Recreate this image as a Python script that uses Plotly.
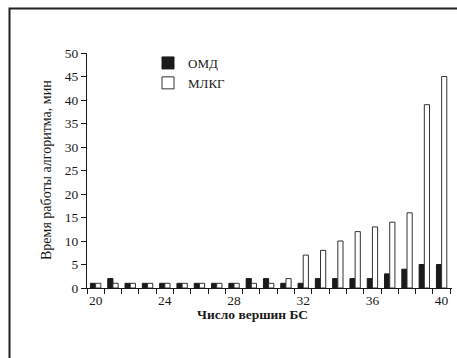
import plotly.graph_objects as go

vertices = list(range(20, 41))
omd = [1, 2, 1, 1, 1, 1, 1, 1, 1, 2, 2, 1, 1, 2, 2, 2, 2, 3, 4, 5, 5]
mlkg = [1, 1, 1, 1, 1, 1, 1, 1, 1, 1, 1, 2, 7, 8, 10, 12, 13, 14, 16, 39, 45]
x_ticks = [20, 24, 28, 32, 36, 40]
y_ticks = list(range(0, 55, 5))

FONT = "Liberation Serif"
INK = "#1a1a1a"

W, H = 457, 358
L, R, T, B = 87, 452, 53, 288
pw, ph = R - L, B - T

def px(x):
    return (x - L) / pw

def py(y):
    return (B - y) / ph

fig = go.Figure()
fig.add_trace(go.Bar(x=vertices, y=omd, name="ОМД", legendgroup="a",
                     marker=dict(color=INK, line=dict(color=INK, width=1))))
fig.add_trace(go.Bar(x=vertices, y=mlkg, name="МЛКГ", legendgroup="b",
                     marker=dict(color="white", line=dict(color="#333", width=1))))

fig.update_layout(
    width=W, height=H,
    margin=dict(l=L, r=W - R, t=T, b=H - B),
    paper_bgcolor="white", plot_bgcolor="white",
    barmode="group", bargap=0.4, bargroupgap=0,
    font=dict(family=FONT, size=13, color=INK),
    showlegend=True,
    legend=dict(x=px(148), y=py(48), xanchor="left", yanchor="top",
                font=dict(family=FONT, size=13, color=INK),
                bgcolor="rgba(0,0,0,0)", tracegroupgap=0,
                traceorder="grouped", itemwidth=30),
    xaxis=dict(range=[19.5, 40.6], tickmode="array", tickvals=x_ticks,
               ticks="outside", ticklen=0, tickcolor=INK,
               showline=True, linecolor=INK, linewidth=1,
               showgrid=False, zeroline=False,
               tickfont=dict(family=FONT, size=13.5, color=INK),
               minor=dict(tickmode="linear", tick0=19.5, dtick=1, ticks="outside",
                          ticklen=5, tickcolor=INK, tickwidth=1, showgrid=False)),
    yaxis=dict(range=[0, 50], tickmode="array", tickvals=y_ticks,
               ticks="outside", ticklen=5, tickcolor=INK, tickwidth=1,
               showline=True, linecolor=INK, linewidth=1,
               showgrid=False, zeroline=False,
               tickfont=dict(family=FONT, size=13.5, color=INK)),
    annotations=[
        dict(text="<b>Число вершин БС</b>", xref="paper", yref="paper",
             x=px(252), y=py(314), xanchor="center", yanchor="middle",
             showarrow=False, font=dict(family=FONT, size=13.5, color=INK)),
        dict(text="Время работы алгоритма, мин", xref="paper", yref="paper",
             x=px(46), y=py(170), xanchor="center", yanchor="middle",
             textangle=-90, showarrow=False,
             font=dict(family=FONT, size=14, color=INK)),
    ],
    shapes=[
        dict(type="rect", xref="paper", yref="paper",
             x0=px(9.5), x1=px(480), y0=py(8.5), y1=py(380),
             line=dict(color="#222", width=2), fillcolor="rgba(0,0,0,0)",
             layer="below"),
    ],
)

fig.write_html(
    "out.html",
    config={"displayModeBar": False},
    post_script="document.documentElement.style.overflow='hidden';document.body.style.margin='0';document.body.style.overflow='hidden';",
)
